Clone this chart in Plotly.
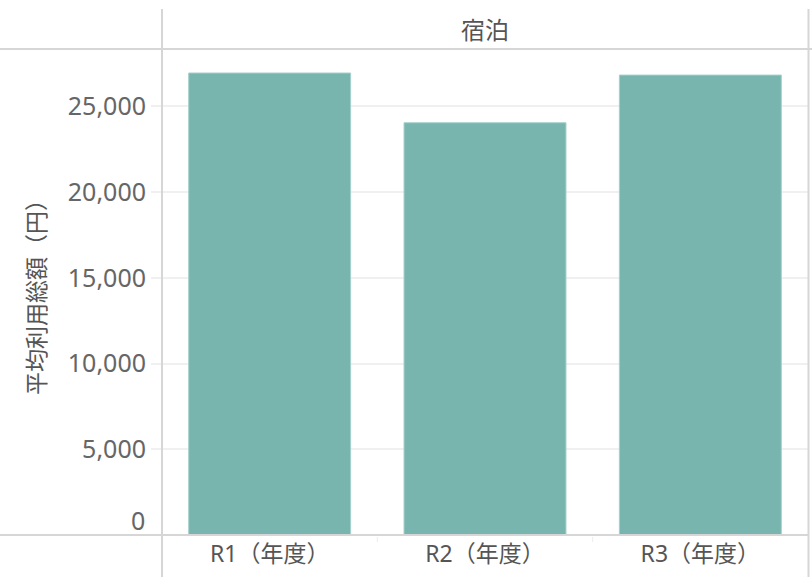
import plotly.graph_objects as go

categories = ["R1（年度）", "R2（年度）", "R3（年度）"]
values = [26940, 24040, 26820]
tick_vals = [0, 5000, 10000, 15000, 20000, 25000]
tick_text = ["0", "5,000", "10,000", "15,000", "20,000", "25,000"]
panel_title = "宿泊"
y_title = "平均利用総額（円）"

W, H = 812, 577
L, R, T, B = 162, 4, 49, 42
pw = W - L - R
ph = H - T - B

def px_x(x):
    return (x - L) / pw

def px_y(y):
    return (H - B - y) / ph

FONT = "Noto Sans, Noto Sans CJK JP, sans-serif"
LINE = "#d6d6d6"

fig = go.Figure()
fig.add_trace(go.Bar(
    x=categories, y=values,
    marker=dict(color="#77b5ae", line=dict(color="#a6d0cb", width=1)),
    hoverinfo="x+y",
))

shapes = [
    dict(type="line", xref="paper", yref="paper", x0=0, x1=0,
         y0=px_y(9), y1=px_y(577), line=dict(color=LINE, width=2)),
    dict(type="line", xref="paper", yref="paper", x0=px_x(808.5), x1=px_x(808.5),
         y0=px_y(9), y1=px_y(577), line=dict(color=LINE, width=2)),
    dict(type="line", xref="paper", yref="paper", x0=px_x(0), x1=px_x(812),
         y0=px_y(49), y1=px_y(49), line=dict(color=LINE, width=2)),
    dict(type="line", xref="paper", yref="paper", x0=px_x(0), x1=px_x(808),
         y0=px_y(535), y1=px_y(535), line=dict(color=LINE, width=2)),
]
for xb in [0.5, 1.5]:
    shapes.append(dict(type="line", xref="x", yref="paper", x0=xb, x1=xb,
                       y0=px_y(537), y1=px_y(542), line=dict(color="#ececec", width=1)))

annotations = [
    dict(text=panel_title, xref="paper", yref="paper", x=0.5, y=px_y(30),
         showarrow=False, font=dict(family=FONT, size=24, color="#555555"),
         xanchor="center", yanchor="middle"),
    dict(text=y_title, xref="paper", yref="paper", x=px_x(36), y=px_y(292),
         showarrow=False, textangle=-90, font=dict(family=FONT, size=23, color="#555555"),
         xanchor="center", yanchor="middle"),
    dict(text=tick_text[0], xref="paper", yref="y", x=px_x(147), y=tick_vals[0],
         yshift=15, showarrow=False, font=dict(family=FONT, size=25, color="#666666"),
         xanchor="right", yanchor="middle"),
]

fig.update_layout(
    width=W, height=H,
    margin=dict(l=L, r=R, t=T, b=B, pad=0),
    paper_bgcolor="white", plot_bgcolor="white",
    bargap=0.248,
    showlegend=False,
    shapes=shapes,
    annotations=annotations,
    font=dict(family=FONT, size=25, color="#666666"),
    xaxis=dict(
        range=[-0.5, 2.5], showgrid=False, zeroline=False, showline=False,
        ticks="", tickfont=dict(family=FONT, size=23, color="#555555"),
        ticklabelstandoff=3,
    ),
    yaxis=dict(
        range=[0, 28340], tickvals=tick_vals,
        ticktext=[""] + tick_text[1:],
        showgrid=True, gridcolor="#f0f0f0", gridwidth=1.5,
        zeroline=False, showline=False,
        ticks="outside", ticklen=10, tickcolor="#f0f0f0", tickwidth=1.5,
        tickfont=dict(family=FONT, size=25, color="#666666"),
    ),
)

fig.write_html("out.html", config={"displayModeBar": False},
               post_script="document.body.style.margin='0';")
